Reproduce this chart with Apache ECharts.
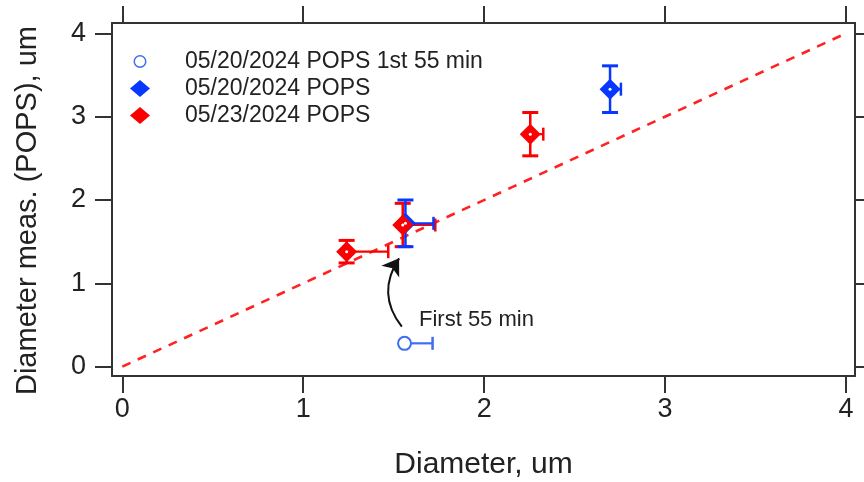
<!DOCTYPE html>
<html><head><meta charset="utf-8">
<script src="https://cdn.jsdelivr.net/npm/echarts@6/dist/echarts.min.js"></script>
<style>html,body{margin:0;padding:0;background:#fff}#c{width:864px;height:482px}</style>
</head><body><div id="c"></div>
<script>
// ---- data ----
const xTicks = [0, 1, 2, 3, 4];
const yTicks = [0, 1, 2, 3, 4];
const seriesNames = ['05/20/2024 POPS 1st 55 min', '05/20/2024 POPS', '05/23/2024 POPS'];
// first 55 min of 05/20
const first55X = [1.56];
const first55Y = [0.28];
const first55XErr = [0.155];
const first55YErr = [0];
// 05/20/2024 POPS
const pops0520X = [1.565, 2.696];
const pops0520Y = [1.72, 3.33];
const pops0520XErr = [0.155, 0.06];
const pops0520YErr = [0.28, 0.28];
// 05/23/2024 POPS
const pops0523X = [1.24, 1.55, 2.255];
const pops0523Y = [1.38, 1.70, 2.79];
const pops0523XErr = [0.23, 0.18, 0.072];
const pops0523YErr = [0.135, 0.26, 0.26];
// 1:1 reference line
const oneToOneX = [0, 4];
const oneToOneY = [0, 4];
// annotation
const annoText = 'First 55 min';
const annoTextPos = [1.64, 0.56];
const annoArrowFrom = [1.545, 0.48];
const annoArrowTo = [1.53, 1.30];

const FONT = '"Liberation Sans", Arial, sans-serif';
const RED = '#fa0000';
const BLUE = '#0838ff';
const LBLUE = '#3f6ef0';
const TXT = '#222';

function pts(xs, ys) { return xs.map((x, i) => [x, ys[i]]); }
function errRows(xs, ys, xe, ye) { return xs.map((x, i) => [x, ys[i], xe[i], ye[i]]); }

function errRender(color) {
  return function (params, api) {
    const x = api.value(0), y = api.value(1), xe = api.value(2), ye = api.value(3);
    const c = api.coord([x, y]);
    const ch = [];
    if (ye > 0) {
      const t = api.coord([x, y + ye]), b = api.coord([x, y - ye]);
      ch.push({ type: 'line', shape: { x1: c[0], y1: t[1], x2: c[0], y2: b[1] }, style: { stroke: color, lineWidth: 2.5 } });
      ch.push({ type: 'line', shape: { x1: c[0] - 8, y1: t[1], x2: c[0] + 8, y2: t[1] }, style: { stroke: color, lineWidth: 3 } });
      ch.push({ type: 'line', shape: { x1: c[0] - 8, y1: b[1], x2: c[0] + 8, y2: b[1] }, style: { stroke: color, lineWidth: 3 } });
    }
    if (xe > 0) {
      const r = api.coord([x + xe, y]);
      ch.push({ type: 'line', shape: { x1: c[0], y1: c[1], x2: r[0], y2: c[1] }, style: { stroke: color, lineWidth: 2.2 } });
      ch.push({ type: 'line', shape: { x1: r[0], y1: c[1] - 6.5, x2: r[0], y2: c[1] + 6.5 }, style: { stroke: color, lineWidth: 2.5 } });
      ch.push({ type: 'line', shape: { x1: c[0], y1: c[1] - 6.5, x2: c[0], y2: c[1] + 6.5 }, style: { stroke: color, lineWidth: 2 } });
    }
    return { type: 'group', children: ch };
  };
}

const chart = echarts.init(document.getElementById('c'), null, { renderer: 'canvas' });

const xRange = { min: -0.057, max: 4.05 };
const yRange = { min: -0.112, max: 4.124 };
const tickStyle = { lineStyle: { color: '#333', width: 2 } };

function xAx(pos, labels) {
  return {
    type: 'value', position: pos, min: xRange.min, max: xRange.max,
    axisLine: { show: true, onZero: false, lineStyle: { color: '#333', width: 2 } },
    axisTick: Object.assign({ show: true, inside: false, length: 17, customValues: xTicks }, tickStyle),
    axisLabel: { show: labels, customValues: xTicks, fontSize: 27, fontFamily: FONT, color: TXT, margin: 20 },
    splitLine: { show: false },
    name: labels ? 'Diameter, um' : '', nameLocation: 'middle', nameGap: 74,
    nameTextStyle: { fontSize: 30, fontFamily: FONT, color: TXT }
  };
}
function yAx(pos, labels) {
  return {
    type: 'value', position: pos, min: yRange.min, max: yRange.max,
    axisLine: { show: true, onZero: false, lineStyle: { color: '#333', width: 2 } },
    axisTick: Object.assign({ show: true, inside: false, length: 17, customValues: yTicks }, tickStyle),
    axisLabel: { show: labels, customValues: yTicks, fontSize: 27, fontFamily: FONT, color: TXT, margin: 26 },
    splitLine: { show: false },
    name: labels ? 'Diameter meas. (POPS), um' : '', nameLocation: 'middle', nameGap: 70, nameRotate: 90,
    nameTextStyle: { fontSize: 29, fontFamily: FONT, color: TXT, padding: [0, 22, 0, 0] }
  };
}

const diamondIcon = 'path://M10,0L20,8.5L10,17L0,8.5Z';
const ringIcon = 'path://M-8.5,-8.5L-8.5,-8.5M8.5,8.5L8.5,8.5M6.5,0A6.5,6.5,0,1,1,-6.5,0A6.5,6.5,0,1,1,6.5,0ZM5,0A5,5,0,1,0,-5,0A5,5,0,1,0,5,0Z';

const option = {
  animation: false,
  backgroundColor: '#fff',
  grid: { left: 112, top: 23, right: 9, bottom: 106, containLabel: false, outerBoundsMode: 'none' },
  xAxis: [xAx('bottom', true), xAx('top', false)],
  yAxis: [yAx('left', true), yAx('right', false)],
  legend: {
    data: [
      { name: seriesNames[0], icon: ringIcon, itemStyle: { color: LBLUE, borderWidth: 0 } },
      { name: seriesNames[1], icon: diamondIcon, itemStyle: { color: BLUE, borderWidth: 0 } },
      { name: seriesNames[2], icon: diamondIcon, itemStyle: { color: RED, borderWidth: 0 } }
    ],
    orient: 'vertical', left: 125, top: 45, itemWidth: 80, itemHeight: 17, itemGap: 4, symbolKeepAspect: true,
    textStyle: { fontSize: 23, fontFamily: FONT, color: TXT, lineHeight: 22 },
    selectedMode: false
  },
  series: [
    {
      type: 'line', data: pts(oneToOneX, oneToOneY), symbol: 'none', silent: true, z: 1,
      lineStyle: { color: '#ff2222', width: 2.6, type: [9, 8] }
    },
    {
      type: 'lines', coordinateSystem: 'cartesian2d', silent: true, z: 1,
      data: [{ coords: [annoArrowFrom, annoArrowTo] }],
      symbol: ['none', 'arrow'], symbolSize: 16,
      lineStyle: { color: '#111', width: 2, curveness: 0.36, opacity: 1 },
      itemStyle: { color: '#111', opacity: 1 }
    },
    {
      type: 'scatter', data: [annoTextPos], symbolSize: 0, silent: true, z: 1,
      itemStyle: { opacity: 1 },
      label: { show: true, position: 'right', distance: 0, formatter: annoText, fontSize: 22, fontFamily: FONT, color: TXT, opacity: 1 }
    },
    {
      type: 'custom', data: errRows(first55X, first55Y, first55XErr, first55YErr),
      renderItem: errRender(LBLUE), z: 2, silent: true
    },
    {
      type: 'scatter', name: seriesNames[0], data: pts(first55X, first55Y), symbol: 'emptyCircle', symbolSize: 13, z: 3,
      itemStyle: { color: LBLUE, borderColor: LBLUE, borderWidth: 1.6, opacity: 1 }
    },
    {
      type: 'custom', data: errRows(pops0523X, pops0523Y, pops0523XErr, pops0523YErr),
      renderItem: errRender(RED), z: 2, silent: true
    },
    {
      type: 'custom', data: errRows(pops0520X, pops0520Y, pops0520XErr, pops0520YErr),
      renderItem: errRender(BLUE), z: 3, silent: true
    },
    {
      type: 'scatter', name: seriesNames[1], data: pts(pops0520X, pops0520Y), symbol: 'diamond', symbolSize: 21, z: 4,
      itemStyle: { color: BLUE, opacity: 1 }
    },
    {
      type: 'scatter', name: seriesNames[2], data: pts(pops0523X, pops0523Y), symbol: 'diamond', symbolSize: 21, z: 5,
      itemStyle: { color: RED, opacity: 1 }
    },
    {
      type: 'scatter', data: pts(pops0520X.concat(pops0523X), pops0520Y.concat(pops0523Y)), symbol: 'circle', symbolSize: 3, z: 6,
      silent: true, itemStyle: { color: '#fff', opacity: 1, borderWidth: 0 }
    }
  ]
};
chart.setOption(option);
</script>
</body></html>
